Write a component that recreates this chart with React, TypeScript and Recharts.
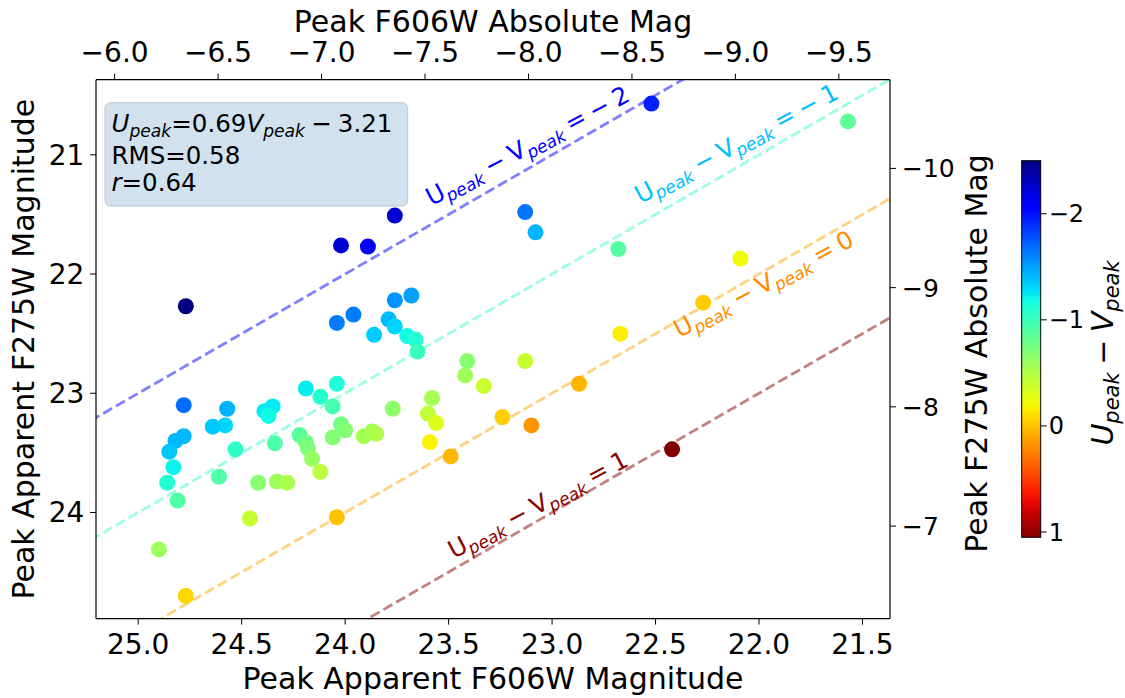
import React from "react";
import { ScatterChart, Scatter, XAxis, YAxis, ReferenceLine, ReferenceDot } from "recharts";

// peak apparent magnitudes (F606W ~ V, F275W ~ U)
const vPeak = [
  24.77, 23.76, 24.02, 23.89, 23.68, 23.76, 23.96, 24.04, 23.79, 23.76,
  23.86, 23.70, 23.66, 23.65, 22.52, 21.57, 23.13, 23.08, 22.68, 22.09,
  22.27, 22.67, 23.13, 23.33, 22.87, 23.24, 23.10, 22.42, 23.41, 23.42,
  23.58, 23.60, 23.56, 23.59, 23.49, 23.77, 24.04, 24.19, 24.12, 24.06,
  24.02, 24.00, 24.06, 24.22, 24.19, 24.18, 24.16, 24.12, 23.91, 23.87,
  23.85, 24.34, 24.35, 24.39, 24.37, 24.57, 24.58, 24.64, 24.53, 24.61,
  24.42, 24.33, 24.28, 24.46, 24.04, 24.90, 24.77, 24.78, 24.78, 24.82,
  24.85, 24.83, 24.86, 24.81,
];
const uPeak = [
  22.27, 21.51, 21.76, 21.77, 22.18, 22.22, 22.34, 22.41, 22.38, 22.44,
  22.51, 22.52, 22.55, 22.65, 20.57, 20.72, 21.48, 21.65, 21.79, 21.87,
  22.24, 22.50, 22.73, 22.94, 22.92, 23.20, 23.27, 23.47, 22.73, 22.85,
  23.04, 23.17, 23.25, 23.41, 23.53, 23.13, 22.92, 22.96, 23.03, 23.11,
  23.26, 23.31, 23.37, 23.35, 23.41, 23.46, 23.55, 23.66, 23.36, 23.32,
  23.34, 23.42, 23.11, 23.15, 23.19, 23.13, 23.27, 23.28, 23.47, 23.70,
  23.75, 23.74, 23.75, 24.05, 24.04, 24.31, 24.70, 23.10, 23.36, 23.40,
  23.49, 23.62, 23.75, 23.90,
];

// constant-colour guide lines U - V = c
const lineOffsets = [-2, -1, 0, 1];
const lineColors = ["#8080ff", "#9cffdf", "#ffd280", "#c58080"];
const labelColors = ["#0000ff", "#00bfff", "#ff8c00", "#8b0000"];
const labelV = [23.12, 22.11, 21.98, 23.07];
const labelU = [20.92, 20.9, 22.08, 23.93];

const xTicks = [25.0, 24.5, 24.0, 23.5, 23.0, 22.5, 22.0, 21.5];
const topTicks = [-6.0, -6.5, -7.0, -7.5, -8.0, -8.5, -9.0, -9.5];
const yTicks = [21, 22, 23, 24];
const rightTicks = [-10, -9, -8, -7];
const cbarTicks = [-2, -1, 0, 1];

const DIST_MOD = 31.114;

const W = 1125;
const H = 698;
const PLOT = { left: 96, right: 890, top: 79.7, bottom: 618.6 };
const X_DOMAIN: [number, number] = [21.367, 25.204];
const Y_DOMAIN: [number, number] = [20.37, 24.89];
const CB = { x: 1021.7, y: 160.7, w: 19, h: 376.6 };
const FONT = "'DejaVu Sans', sans-serif";
const LABEL_ANGLE = 28;
const SP = "\u2005"; // mathtext-like medium space

const points = vPeak.map((v, i) => ({ v, u: uPeak[i], c: uPeak[i] - v }));
const absPoints = points.map((p) => ({ m: p.v - DIST_MOD, M: p.u - DIST_MOD }));
const cMin = Math.min(...points.map((p) => p.c));
const cMax = Math.max(...points.map((p) => p.c));

// matplotlib "jet"
const JET: Record<string, number[][]> = {
  r: [[0, 0], [0.35, 0], [0.66, 1], [0.89, 1], [1, 0.5]],
  g: [[0, 0], [0.125, 0], [0.375, 1], [0.64, 1], [0.91, 0], [1, 0]],
  b: [[0, 0.5], [0.11, 1], [0.34, 1], [0.65, 0], [1, 0]],
};
function interp(pts: number[][], t: number) {
  for (let i = 1; i < pts.length; i++) {
    if (t <= pts[i][0]) {
      const [x0, y0] = pts[i - 1];
      const [x1, y1] = pts[i];
      return y0 + ((t - x0) / (x1 - x0)) * (y1 - y0);
    }
  }
  return pts[pts.length - 1][1];
}
function jet(t: number) {
  const k = Math.max(0, Math.min(1, t));
  const ch = (n: string) => Math.round(interp(JET[n], k) * 255);
  return `rgb(${ch("r")},${ch("g")},${ch("b")})`;
}
const colorOf = (c: number) => jet((c - cMin) / (cMax - cMin));

const minus = (s: string) => s.replace("-", "\u2212");
const fmt1 = (v: number) => minus(v.toFixed(1));
const fmt0 = (v: number) => minus(String(v));

type Seg = { t: string; it?: boolean; sub?: boolean };
function MathRun({ segs, size }: { segs: Seg[]; size: number }) {
  let down = false;
  return (
    <>
      {segs.map((s, i) => {
        let dy: number | undefined;
        if (s.sub && !down) {
          dy = size * 0.2;
          down = true;
        } else if (!s.sub && down) {
          dy = -size * 0.2;
          down = false;
        }
        return (
          <tspan key={i} dy={dy} fontSize={s.sub ? size * 0.7 : size} fontStyle={s.it ? "italic" : "normal"}>
            {s.t}
          </tspan>
        );
      })}
    </>
  );
}

const peak: Seg = { t: "peak", it: true, sub: true };

function lineLabel(c: number, color: string) {
  const rhs = `${c < 0 ? "\u2212" + SP : ""}${Math.abs(c)}`;
  const segs: Seg[] = [{ t: "U" }, peak, { t: `${SP}\u2212${SP}V` }, peak, { t: `${SP}=${SP}${rhs}` }];
  return (props: any) => (
    <g transform={`translate(${props.cx},${props.cy}) rotate(${-LABEL_ANGLE})`}>
      <text x={0} y={9} textAnchor="middle" fill={color} style={{ whiteSpace: "pre" }} fontFamily={FONT}>
        <MathRun segs={segs} size={24.5} />
      </text>
    </g>
  );
}

const renderDot = (props: any) => (
  <circle cx={props.cx} cy={props.cy} r={8} fill={colorOf(props.payload.c)} />
);

const tickFont = { fill: "#000", fontSize: 28 };
const axisStroke = { stroke: "#000", strokeWidth: 1.2 };

export default function App() {
  const cbY = (v: number) => CB.y + ((v - cMin) / (cMax - cMin)) * CB.h;
  const stops = Array.from({ length: 41 }, (_, i) => i / 40);

  return (
    <div style={{ position: "absolute", left: 0, top: 0, width: W, height: H, background: "#fff", fontFamily: FONT }}>
      <ScatterChart width={W} height={H} margin={{ top: 0, right: 0, bottom: 0, left: 0 }}>
        <XAxis
          xAxisId="bottom"
          orientation="bottom"
          type="number"
          dataKey="v"
          domain={X_DOMAIN}
          reversed
          allowDataOverflow
          height={H - PLOT.bottom}
          ticks={xTicks}
          interval={0}
          tickFormatter={fmt1}
          tick={tickFont}
          tickSize={6}
          tickMargin={10}
          axisLine={axisStroke}
          tickLine={{ stroke: "#000" }}
        />
        <XAxis
          xAxisId="top"
          orientation="top"
          type="number"
          dataKey="m"
          domain={[X_DOMAIN[0] - DIST_MOD, X_DOMAIN[1] - DIST_MOD]}
          reversed
          allowDataOverflow
          height={PLOT.top}
          ticks={topTicks}
          interval={0}
          tickFormatter={fmt1}
          tick={tickFont}
          tickSize={6}
          tickMargin={12}
          axisLine={axisStroke}
          tickLine={{ stroke: "#000" }}
        />
        <YAxis
          yAxisId="left"
          orientation="left"
          type="number"
          dataKey="u"
          domain={Y_DOMAIN}
          reversed
          allowDataOverflow
          width={PLOT.left}
          ticks={yTicks}
          interval={0}
          tickFormatter={fmt0}
          tick={tickFont}
          tickSize={6}
          tickMargin={5.6}
          axisLine={axisStroke}
          tickLine={{ stroke: "#000" }}
        />
        <YAxis
          yAxisId="right"
          orientation="right"
          type="number"
          dataKey="M"
          domain={[Y_DOMAIN[0] - DIST_MOD, Y_DOMAIN[1] - DIST_MOD]}
          reversed
          allowDataOverflow
          width={W - PLOT.right}
          ticks={rightTicks}
          interval={0}
          tickFormatter={fmt0}
          tick={{ fill: "#000", fontSize: 25 }}
          tickSize={6}
          tickMargin={6}
          axisLine={axisStroke}
          tickLine={{ stroke: "#000" }}
        />
        {lineOffsets.map((c, i) => (
          <ReferenceLine
            key={`l${c}`}
            xAxisId="bottom"
            yAxisId="left"
            segment={[
              { x: 25.6, y: 25.6 + c },
              { x: 21.0, y: 21.0 + c },
            ]}
            stroke={lineColors[i]}
            strokeWidth={2.8}
            strokeDasharray="10.3 4.4"
            ifOverflow="hidden"
          />
        ))}
        <Scatter
          xAxisId="top"
          yAxisId="right"
          data={absPoints}
          isAnimationActive={false}
          shape={() => <g />}
        />
        <Scatter
          xAxisId="bottom"
          yAxisId="left"
          data={points}
          isAnimationActive={false}
          shape={renderDot}
        />
        {lineOffsets.map((c, i) => (
          <ReferenceDot
            key={`t${c}`}
            xAxisId="bottom"
            yAxisId="left"
            x={labelV[i]}
            y={labelU[i]}
            ifOverflow="visible"
            shape={lineLabel(c, labelColors[i])}
          />
        ))}
      </ScatterChart>

      <svg
        width={W}
        height={H}
        style={{ position: "absolute", left: 0, top: 0, pointerEvents: "none" }}
        fontFamily={FONT}
      >
        <defs>
          <linearGradient id="jetbar" x1="0" y1="0" x2="0" y2="1">
            {stops.map((t) => (
              <stop key={t} offset={t} stopColor={jet(t)} />
            ))}
          </linearGradient>
        </defs>

        {/* axis titles */}
        <text x={(PLOT.left + PLOT.right) / 2} y={689} textAnchor="middle" fontSize={30}>
          Peak Apparent F606W Magnitude
        </text>
        <text x={(PLOT.left + PLOT.right) / 2} y={32} textAnchor="middle" fontSize={30}>
          Peak F606W Absolute Mag
        </text>
        <text transform={`translate(33.5,${(PLOT.top + PLOT.bottom) / 2}) rotate(-90)`} textAnchor="middle" fontSize={30}>
          Peak Apparent F275W Magnitude
        </text>
        <text transform="translate(987,353.5) rotate(-90)" textAnchor="middle" fontSize={30}>
          Peak F275W Absolute Mag
        </text>

        {/* fit box */}
        <rect x={105} y={102.7} width={302.7} height={103.3} rx={5.5} fill="#d1e1ee" stroke="#bcc5cc" strokeWidth={1} />
        <text x={111.5} y={132.3} style={{ whiteSpace: "pre" }}>
          <MathRun
            size={24.5}
            segs={[{ t: "U", it: true }, peak, { t: "=0.69" }, { t: "V", it: true }, peak, { t: `${SP}\u2212${SP}3.21` }]}
          />
        </text>
        <text x={111.5} y={164} fontSize={24.5}>
          RMS=0.58
        </text>
        <text x={111.5} y={191} fontSize={24.5}>
          <tspan fontStyle="italic">r</tspan>=0.64
        </text>

        {/* colour bar */}
        <rect x={CB.x} y={CB.y} width={CB.w} height={CB.h} fill="url(#jetbar)" stroke="#000" strokeWidth={1} />
        {cbarTicks.map((v) => (
          <g key={v}>
            <line x1={CB.x + CB.w} x2={CB.x + CB.w + 6} y1={cbY(v)} y2={cbY(v)} stroke="#000" strokeWidth={1} />
            <text x={CB.x + CB.w + 8} y={cbY(v)} dy="0.355em" fontSize={24}>
              {fmt0(v)}
            </text>
          </g>
        ))}
        <text transform="translate(1113,353) rotate(-90)" textAnchor="middle" style={{ whiteSpace: "pre" }}>
          <MathRun size={30} segs={[{ t: "U", it: true }, peak, { t: `${SP}\u2212${SP}` }, { t: "V", it: true }, peak]} />
        </text>
      </svg>
    </div>
  );
}
